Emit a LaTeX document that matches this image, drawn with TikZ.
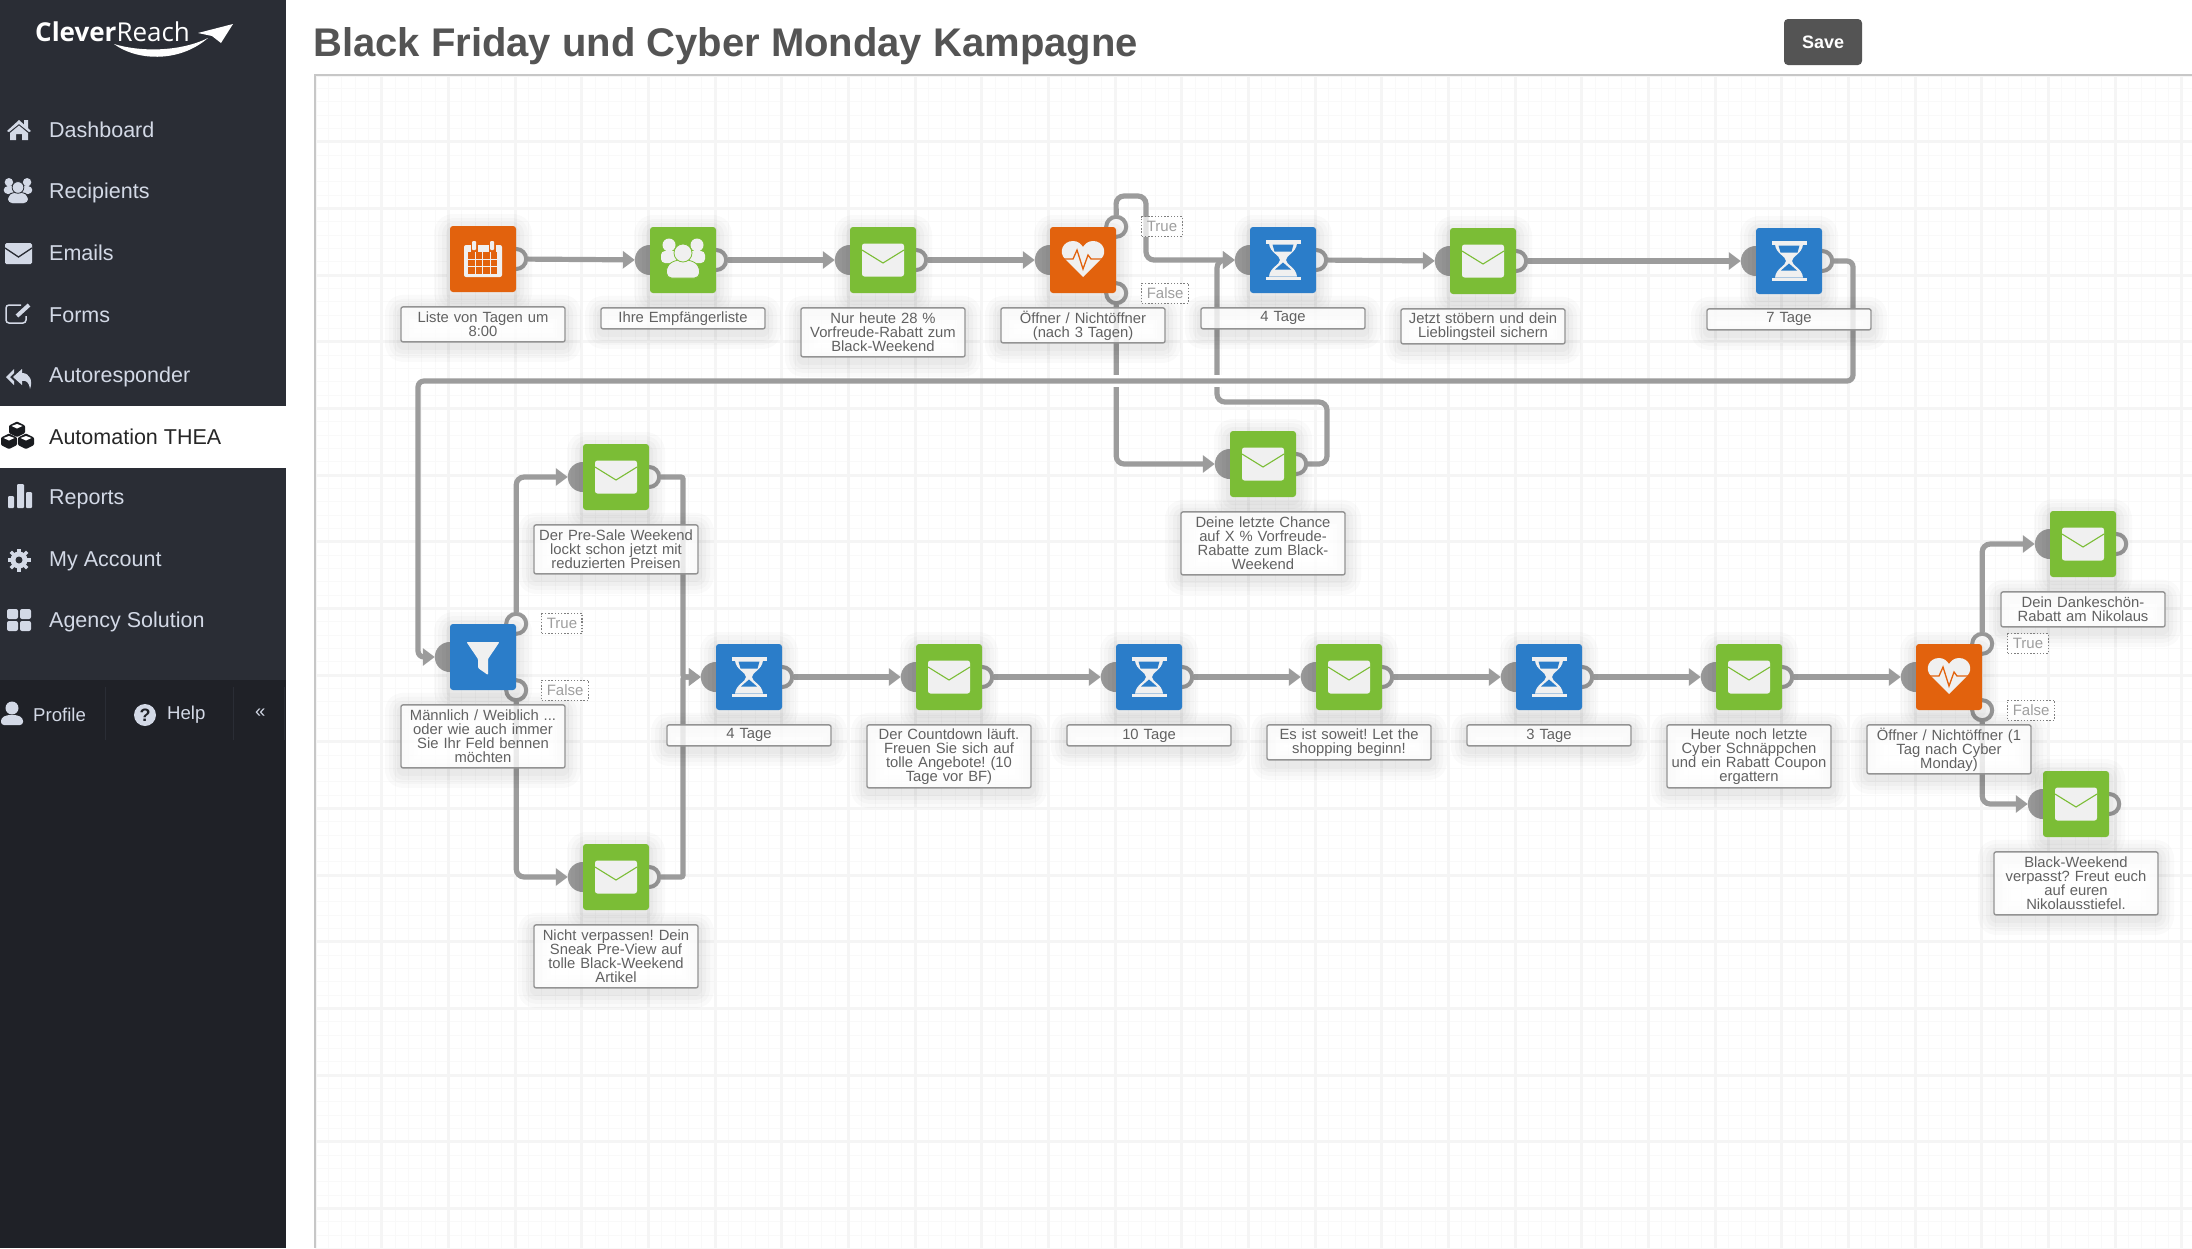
\documentclass[tikz,border=0pt]{standalone}
\usepackage{fontspec}
\setmainfont{Liberation Sans}
\newfontfamily\logofont{Open Sans}
\usetikzlibrary{arrows.meta,positioning,shapes,calc}
\definecolor{sidebar}{HTML}{2A2D35}
\definecolor{sidefoot}{HTML}{1F2127}
\definecolor{menutext}{HTML}{D3D9E6}
\definecolor{mailgreen}{HTML}{7BBD36}
\definecolor{waitblue}{HTML}{2B7DC9}
\definecolor{checkorange}{HTML}{E2620D}
\definecolor{iconwhite}{HTML}{F0F0F0}
\definecolor{wiregray}{HTML}{9C9C9C}
\pgfdeclarelayer{bg}
\pgfdeclarelayer{wires}
\pgfsetlayers{bg,wires,main}
\frenchspacing
\hyphenpenalty=10000
\tikzset{
  soft shadow/.style={
    preaction={draw=black,draw opacity=.018,line width=32pt,line join=round,transform canvas={yshift=-4pt}},
    preaction={draw=black,draw opacity=.02,line width=24pt,line join=round,transform canvas={yshift=-4pt}},
    preaction={draw=black,draw opacity=.022,line width=16pt,line join=round,transform canvas={yshift=-4pt}},
    preaction={draw=black,draw opacity=.025,line width=8pt,line join=round,transform canvas={yshift=-4pt}}},
  main node/.style={rectangle,rounded corners=3pt,minimum size=66pt,inner sep=0pt,soft shadow},
  mail node/.style={main node,fill=mailgreen},
  wait node/.style={main node,fill=waitblue},
  check node/.style={main node,fill=checkorange},
  in port/.style={circle,fill=wiregray,minimum size=30pt,inner sep=0pt,outer sep=0pt},
  out port/.style={circle,draw=wiregray,line width=4pt,fill=white,minimum size=20pt,inner sep=0pt},
  wire/.style={draw=wiregray,line width=5.2pt,rounded corners=8pt,-{Triangle[length=12pt,width=17pt]}},
  long wire/.style={wire,rounded corners=6pt},
  cross gap/.style={fill=white,minimum width=11pt,minimum height=12pt,inner sep=0pt},
  step label/.style={draw=gray!85,line width=1.4pt,fill=white,fill opacity=.8,text opacity=1,rounded corners=2pt,
    text=black!62,font=\fontsize{14.8}{14}\selectfont,align=center,text width=164pt,inner xsep=0pt,inner ysep=2pt,
    minimum height=7pt+14pt*#1,soft shadow},
  path tag/.style={draw=black!50,dash pattern=on 1.4pt off 1.8pt,line width=1.2pt,fill=white,fill opacity=.7,text opacity=1,text=black!38,
    font=\fontsize{15}{15}\selectfont,inner xsep=5pt,inner ysep=0pt,minimum height=20pt},
  menu item/.style={anchor=west,text=menutext,font=\fontsize{21.5}{21.5}\selectfont,inner sep=0pt},
  foot item/.style={anchor=west,text=menutext,font=\fontsize{18.6}{18.6}\selectfont,inner sep=0pt},
  menu icon/.style={fill=menutext},
  pics/mail icon/.style={code={
    \fill[rounded corners=2.5pt,iconwhite] (-21,-16.5) rectangle (21,16.5);
    \draw[#1,line width=1.1pt] (-21,-10) -- (0,3) -- (21,-10);}},
  pics/wait icon/.style={code={
    \fill[iconwhite] (-17.5,-20) rectangle (17.5,-16.5);
    \fill[iconwhite] (-17.5,16.5) rectangle (17.5,20);
    \fill[iconwhite] (-14,-16.5) .. controls (-13,-7) and (-3,-5) .. (-3,0) .. controls (-3,5) and (-13,7) .. (-14,16.5)
      -- (14,16.5) .. controls (13,7) and (3,5) .. (3,0) .. controls (3,-5) and (13,-7) .. (14,-16.5) -- cycle;
    \fill[waitblue] (-10.5,-15.5) -- (10.5,-15.5) -- (8.5,-8.5) -- (-8.5,-8.5) -- cycle;
    \fill[waitblue] (0,2.5) -- (8,9.5) -- (-8,9.5) -- cycle;}},
  pics/heart icon/.style={code={
    \fill[iconwhite] (0,17) -- (-18,-1) .. controls (-25,-8) and (-20,-19) .. (-10,-19) .. controls (-5,-19) and (-2,-16) .. (0,-13)
      .. controls (2,-16) and (5,-19) .. (10,-19) .. controls (20,-19) and (25,-8) .. (18,-1) -- cycle;
    \draw[checkorange,line width=1.3pt] (-21,-1) -- (-10,-1) -- (-6,-10) -- (0,9) -- (5,-5) -- (8,-1) -- (21,-1);}},
  pics/people icon/.style 2 args={code={
    \fill[#1,rounded corners=4pt] (-22,-9) rectangle (22,3);
    \fill[#1] (-14,-15) circle (6.5) (14,-15) circle (6.5);
    \path[fill=#1,draw=#2,line width=.8pt,rounded corners=5pt] (-16.5,18) -- (-16.5,6) -- (-8,0) -- (8,0) -- (16.5,6) -- (16.5,18) -- cycle;
    \path[fill=#1,draw=#2,line width=.8pt] (0,-7) circle (9);}},
}
\begin{document}
\begin{tikzpicture}[x=1pt,y=-1pt]
\useasboundingbox (0,0) rectangle (2192,1248);
\begin{pgfonlayer}{bg}
\fill[white] (0,0) rectangle (2192,1248);
% canvas grid
\foreach \gx in {0,...,141} \draw[black!2.5,line width=.8pt] ({315+13.333*\gx},75) -- ({315+13.333*\gx},1248);
\foreach \gy in {0,...,88} \draw[black!2.5,line width=.8pt] (315,{75+13.333*\gy}) -- (2192,{75+13.333*\gy});
\foreach \gx in {0,...,28} \draw[black!4,line width=3pt] ({315+66.667*\gx},75) -- ({315+66.667*\gx},1248);
\foreach \gy in {0,...,17} \draw[black!4,line width=3pt] (315,{75+66.667*\gy}) -- (2192,{75+66.667*\gy});
\draw[black!22,line width=2pt] (315,1248) -- (315,75) -- (2192,75);
\end{pgfonlayer}
% sidebar
\fill[sidebar] (0,0) rectangle (286,1248);
\fill[sidefoot] (0,680) rectangle (286,1248);
\fill[white] (0,406) rectangle (286,468);
\draw[sidebar,line width=1pt] (105,687) -- (105,740) (233,687) -- (233,740) (284,687) -- (284,740);
\node[anchor=base west,text=white,inner sep=0pt,font=\logofont\fontsize{26}{26}\selectfont] (logo) at (35,41) {\textbf{Clever}Reach};
\fill[white] (114,44) .. controls (135,60) and (178,64) .. (208,38) .. controls (180,52) and (140,52) .. (114,44) -- cycle;
\fill[white] (198,33) -- (233,24) -- (221,43) -- (212,36) -- cycle;
\node[menu item] (m1) at (49,130) {Dashboard};
\node[menu item] (m2) at (49,192.5) {Recipients};
\node[menu item] (m3) at (49,253) {Emails};
\node[menu item] (m4) at (49,315) {Forms};
\node[menu item] (m5) at (49,377) {Autoresponder};
\node[menu item,text=black!85] (m6) at (49,436.5) {Automation THEA};
\node[menu item] (m7) at (49,499) {Reports};
\node[menu item] (m8) at (49,561) {My Account};
\node[menu item] (m9) at (49,622) {Agency Solution};
\node[foot item] (f1) at (33,715) {Profile};
\node[foot item] (f2) at (167,715) {Help};
\node[foot item] (f3) at (255,713) {«};
% sidebar icons
\fill[menu icon] (7,131) -- (19,120) -- (24,124.5) -- (24,120) -- (28,120) -- (28,128) -- (31,131) -- (29,132) -- (19,124) -- (9,132) -- cycle;
\fill[menu icon] (10,133) -- (19,125.5) -- (28,133) -- (28,140) -- (22,140) -- (22,134) -- (16,134) -- (16,140) -- (10,140) -- cycle;
\pic[scale=.65] at (18,192) {people icon={menutext}{sidebar}};
\fill[menu icon,rounded corners=1.5pt] (5,243) rectangle (32,264);
\draw[sidebar,line width=1.3pt] (5,248) -- (18.5,257) -- (32,248);
\draw[menutext,line width=1.5pt,rounded corners=3pt] (26,316) -- (26,323) -- (6,323) -- (6,305) -- (21,305);
\draw[menutext,line width=4pt] (17,316) -- (29,305);
\fill[menu icon] (6,377) -- (14,369) -- (14,373) -- (10,377) -- (14,381) -- (14,385) -- cycle;
\fill[menu icon] (13,377) -- (22,369) -- (22,373) .. controls (30,373) and (33,381) .. (30,389) .. controls (29,382) and (26,380) .. (22,381) -- (22,385) -- cycle;
\foreach \cx/\cy in {17/429,9/441,26/441} {
  \fill[sidefoot!80!black,rounded corners=1pt] (\cx-8,\cy-3.5) -- (\cx,\cy-7.5) -- (\cx+8,\cy-3.5) -- (\cx+8,\cy+4) -- (\cx,\cy+8) -- (\cx-8,\cy+4) -- cycle;
  \fill[white] (\cx-5.5,\cy-3) -- (\cx,\cy-5) -- (\cx+5.5,\cy-3) -- (\cx,\cy-0.5) -- cycle;
}
\fill[menu icon,rounded corners=1pt] (8,496) rectangle (14,508);
\fill[menu icon,rounded corners=1pt] (17,484) rectangle (24,508);
\fill[menu icon,rounded corners=1pt] (26,492) rectangle (32,508);
\foreach \ga in {0,45,...,315} \draw[menutext,line width=3.5pt] (19,560) -- ++(\ga:11.5);
\fill[menu icon] (19,560) circle (8.5);
\fill[sidebar] (19,560) circle (3.5);
\fill[menu icon,rounded corners=2pt] (7,609) rectangle (18,619);
\fill[menu icon,rounded corners=2pt] (20,609) rectangle (31,619);
\fill[menu icon,rounded corners=2pt] (7,621) rectangle (18,631);
\fill[menu icon,rounded corners=2pt] (20,621) rectangle (31,631);
\fill[menu icon] (12,708) circle (6.5);
\fill[menu icon,rounded corners=3pt] (1,725) -- (1,718) -- (7,715) -- (17,715) -- (23,718) -- (23,725) -- cycle;
\node[circle,fill=menutext,text=sidefoot,minimum size=22pt,inner sep=0pt,font=\fontsize{18}{18}\selectfont\bfseries] (f4) at (145,715) {?};
% title bar
\node[anchor=west,inner sep=0pt,text=black!67,font=\fontsize{40}{40}\selectfont\bfseries] (title) at (313,46) {Black Friday und Cyber Monday Kampagne};
\node[fill=black!67,text=white,rounded corners=4pt,minimum width=78pt,minimum height=46pt,inner sep=0pt,font=\fontsize{18}{18}\selectfont\bfseries] (save) at (1823,42) {Save};
% blocks
\node[check node] (v1) at (483,259) {};
\node[mail node] (v2) at (683,260) {};
\node[mail node] (v3) at (883,260) {};
\node[check node] (v4) at (1083,260) {};
\node[wait node] (v5) at (1283,260) {};
\node[mail node] (v6) at (1483,261) {};
\node[wait node] (v7) at (1789,261) {};
\node[mail node] (v8) at (1263,464) {};
\node[wait node] (v9) at (483,657) {};
\node[mail node] (v10) at (616,477) {};
\node[mail node] (v11) at (616,877) {};
\node[wait node] (v12) at (749,677) {};
\node[mail node] (v13) at (949,677) {};
\node[wait node] (v14) at (1149,677) {};
\node[mail node] (v15) at (1349,677) {};
\node[wait node] (v16) at (1549,677) {};
\node[mail node] (v17) at (1749,677) {};
\node[check node] (v18) at (1949,677) {};
\node[mail node] (v19) at (2083,544) {};
\node[mail node] (v20) at (2076,804) {};
% labels
\begin{scope}[node distance=14pt]
\node[step label=2,below=of v1] (l1) {Liste von Tagen um\\8:00};
\node[step label=1,below=of v2] (l2) {Ihre Empfängerliste};
\node[step label=3,below=of v3] (l3) {Nur heute 28 \%\\Vorfreude-Rabatt zum\\Black-Weekend};
\node[step label=2,below=of v4] (l4) {Öffner / Nichtöffner\\(nach 3 Tagen)};
\node[step label=1,below=of v5] (l5) {4 Tage};
\node[step label=2,below=of v6] (l6) {Jetzt stöbern und dein\\Lieblingsteil sichern};
\node[step label=1,below=of v7] (l7) {7 Tage};
\node[step label=4,below=of v8] (l8) {Deine letzte Chance\\auf X \% Vorfreude-\\Rabatte zum Black-\\Weekend};
\node[step label=4,below=of v9] (l9) {Männlich / Weiblich ...\\oder wie auch immer\\Sie Ihr Feld bennen\\möchten};
\node[step label=3,below=of v10] (l10) {Der Pre-Sale Weekend\\lockt schon jetzt mit\\reduzierten Preisen};
\node[step label=4,below=of v11] (l11) {Nicht verpassen! Dein\\Sneak Pre-View auf\\tolle Black-Weekend\\Artikel};
\node[step label=1,below=of v12] (l12) {4 Tage};
\node[step label=4,below=of v13] (l13) {Der Countdown läuft.\\Freuen Sie sich auf\\tolle Angebote! (10\\Tage vor BF)};
\node[step label=1,below=of v14] (l14) {10 Tage};
\node[step label=2,below=of v15] (l15) {Es ist soweit! Let the\\shopping beginn!};
\node[step label=1,below=of v16] (l16) {3 Tage};
\node[step label=4,below=of v17] (l17) {Heute noch letzte\\Cyber Schnäppchen\\und ein Rabatt Coupon\\ergattern};
\node[step label=3,below=of v18] (l18) {Öffner / Nichtöffner (1\\Tag nach Cyber\\Monday)};
\node[step label=2,below=of v19] (l19) {Dein Dankeschön-\\Rabatt am Nikolaus};
\node[step label=4,below=of v20] (l20) {Black-Weekend\\verpasst? Freut euch\\auf euren\\Nikolausstiefel.};
\end{scope}
\begin{pgfonlayer}{wires}
% ports
\foreach \v in {v2,v3,v4,v5,v6,v7,v8,v9,v10,v11,v12,v13,v14,v15,v16,v17,v18,v19,v20} \node[in port] (\v i) at (\v.west) {};
\foreach \v in {v1,v2,v3,v5,v6,v7,v8,v10,v11,v12,v13,v14,v15,v16,v17,v19,v20} \node[out port] (\v o) at (\v.east) {};
\foreach \v in {v4,v9,v18} {
  \node[out port] (\v t) at (\v.north east) {};
  \node[out port] (\v f) at (\v.south east) {};
}
% bend points
\coordinate (t1) at (1116,196);
\coordinate (t2) at (1146,196);
\coordinate (r1) at (1327,402);
\coordinate (r2) at (1217,402);
\coordinate (k1) at (1853,381);
\coordinate (k2) at (418,381);
\coordinate (j1) at (683,677);
% wires
\draw[wire] (v1o) -- (v2i);
\draw[wire] (v2o) -- (v3i);
\draw[wire] (v3o) -- (v4i);
\draw[wire] (v4t.north) -- (t1) -- (t2) |- (v5i);
\draw[wire] (v4f.south) |- (v8i);
\draw[wire] (v8o) -| (r1) -- (r2) |- (v5i);
\draw[wire] (v5o) -- (v6i);
\draw[wire] (v6o) -- (v7i);
\draw[wire] (v9t.north) |- (v10i);
\draw[wire] (v9f.south) |- (v11i);
\draw[wire,rounded corners=2pt] (v10o) -| (j1) -- (v12i);
\draw[wire,rounded corners=2pt] (v11o) -| (j1) -- (v12i);
\draw[wire] (v12o) -- (v13i);
\draw[wire] (v13o) -- (v14i);
\draw[wire] (v14o) -- (v15i);
\draw[wire] (v15o) -- (v16i);
\draw[wire] (v16o) -- (v17i);
\draw[wire] (v17o) -- (v18i);
\draw[wire] (v18t.north) |- (v19i);
\draw[wire] (v18f.south) |- (v20i);
\node[cross gap] (x1) at (1116,381) {};
\node[cross gap] (x2) at (1217,381) {};
\draw[long wire] (v7o) -| (k1) -- (k2) |- (v9i);
\end{pgfonlayer}
% tags
\begin{scope}[node distance=13pt]
\node[path tag,right=of v4t] (t4) {True};
\node[path tag,right=of v4f] (f4f) {False};
\node[path tag,right=of v9t] (t9) {True};
\node[path tag,right=of v9f] (f9) {False};
\node[path tag,right=of v18t] (t18) {True};
\node[path tag,right=of v18f] (f18) {False};
\end{scope}
% icons
\foreach \v in {v3,v6,v8,v10,v11,v13,v15,v17,v19,v20} \pic at (\v) {mail icon=mailgreen};
\foreach \v in {v5,v7,v12,v14,v16} \pic at (\v) {wait icon};
\foreach \v in {v4,v18} \pic at (\v) {heart icon};
\pic at (v2) {people icon={iconwhite}{mailgreen}};
\begin{scope}[shift={(v1)}]
\fill[iconwhite,rounded corners=2pt] (-19,-14) rectangle (19,18);
\foreach \rx in {-9,9} {
  \fill[checkorange] (\rx-3.5,-18) rectangle (\rx+3.5,-7);
  \fill[iconwhite,rounded corners=1pt] (\rx-2,-18) rectangle (\rx+2,-9);
}
\foreach \cx in {-15,-7.5,0,7.5} \foreach \cy in {-7,0.5,8} \fill[checkorange] (\cx,\cy) rectangle (\cx+6.5,\cy+6.5);
\end{scope}
\begin{scope}[shift={(v9)}]
\fill[iconwhite,rounded corners=1pt] (-16.5,-15) -- (16.5,-15) -- (5,2) -- (5,18) -- (-5,11) -- (-5,2) -- cycle;
\end{scope}
\end{tikzpicture}
\end{document}
